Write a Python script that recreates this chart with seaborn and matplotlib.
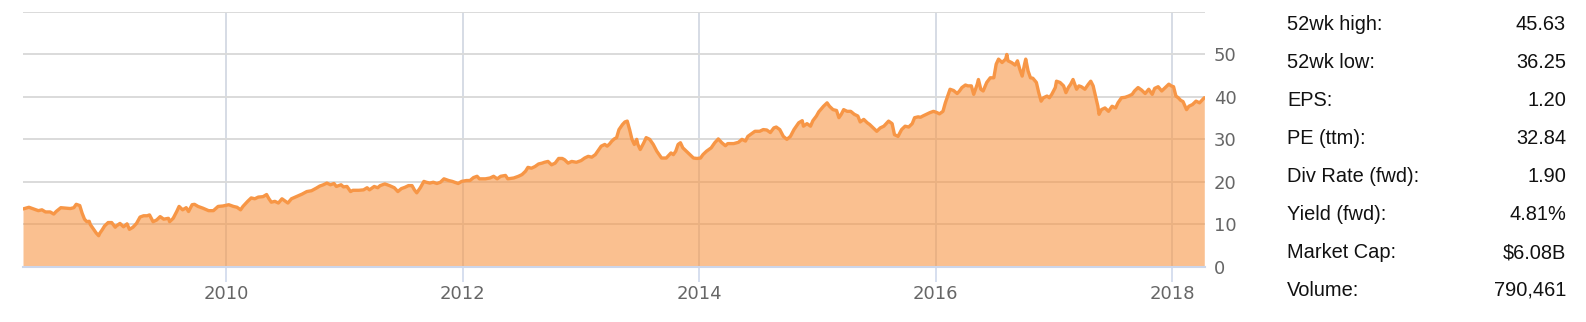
import matplotlib
matplotlib.use("Agg")
import matplotlib.pyplot as plt
import seaborn as sns
import pandas as pd

# ---------------- data ----------------
years = [
    2008.28, 2008.33, 2008.37, 2008.41, 2008.44, 2008.47, 2008.51, 2008.54, 2008.56, 2008.60,
    2008.64, 2008.68, 2008.71, 2008.73, 2008.76, 2008.78, 2008.80, 2008.82, 2008.84, 2008.85,
    2008.87, 2008.90, 2008.92, 2008.93, 2008.95, 2008.97, 2009.00, 2009.03, 2009.06, 2009.07,
    2009.10, 2009.13, 2009.16, 2009.18, 2009.21, 2009.24, 2009.27, 2009.30, 2009.33, 2009.35,
    2009.38, 2009.41, 2009.44, 2009.47, 2009.51,
    2009.52, 2009.55, 2009.58, 2009.60, 2009.63, 2009.66, 2009.68, 2009.71, 2009.73, 2009.76,
    2009.80, 2009.85, 2009.89, 2009.93, 2009.97, 2010.02, 2010.06, 2010.09, 2010.12, 2010.14,
    2010.18, 2010.21, 2010.24, 2010.27, 2010.31, 2010.34, 2010.36, 2010.38, 2010.41, 2010.44,
    2010.47, 2010.50, 2010.52, 2010.55, 2010.59, 2010.64, 2010.68, 2010.72, 2010.76, 2010.79,
    2010.82, 2010.85, 2010.88, 2010.91, 2010.93, 2010.97, 2010.99, 2011.02, 2011.05, 2011.07,
    2011.12, 2011.16, 2011.19, 2011.21, 2011.25, 2011.28, 2011.30, 2011.34, 2011.38, 2011.42,
    2011.45, 2011.48, 2011.51, 2011.54, 2011.57, 2011.59, 2011.61, 2011.64, 2011.67, 2011.69,
    2011.72, 2011.75, 2011.78, 2011.81, 2011.84, 2011.88, 2011.91, 2011.93, 2011.96, 2011.99,
    2012.03, 2012.06,
    2012.09, 2012.12, 2012.14, 2012.19, 2012.23, 2012.26, 2012.29, 2012.32, 2012.36, 2012.38,
    2012.43, 2012.47, 2012.50, 2012.53, 2012.55, 2012.58, 2012.61, 2012.64, 2012.67, 2012.69,
    2012.72, 2012.75, 2012.78, 2012.81, 2012.84, 2012.86, 2012.89, 2012.92, 2012.96, 2013.00,
    2013.03, 2013.06, 2013.09, 2013.12, 2013.15, 2013.17, 2013.20, 2013.22, 2013.24, 2013.26,
    2013.28, 2013.30, 2013.32,
    2013.35, 2013.37, 2013.39, 2013.41, 2013.43, 2013.45, 2013.47, 2013.48, 2013.50, 2013.53,
    2013.55, 2013.58, 2013.61, 2013.64, 2013.68, 2013.72, 2013.76, 2013.78, 2013.80, 2013.82,
    2013.84, 2013.86, 2013.89, 2013.92, 2013.95, 2013.98, 2014.01, 2014.03, 2014.06, 2014.08,
    2014.10, 2014.13, 2014.16, 2014.19, 2014.22, 2014.24, 2014.29, 2014.33, 2014.36, 2014.39,
    2014.41, 2014.44, 2014.47, 2014.51, 2014.54, 2014.57, 2014.60,
    2014.63, 2014.65, 2014.68, 2014.71, 2014.74, 2014.77, 2014.80, 2014.84, 2014.87, 2014.88,
    2014.91, 2014.94, 2014.96, 2014.99, 2015.01, 2015.05, 2015.08, 2015.10, 2015.13, 2015.16,
    2015.18, 2015.20, 2015.22, 2015.25, 2015.28, 2015.31, 2015.34, 2015.36, 2015.39, 2015.42,
    2015.44, 2015.47, 2015.50, 2015.53, 2015.56, 2015.60, 2015.63, 2015.65, 2015.68, 2015.71,
    2015.74, 2015.77, 2015.80, 2015.82, 2015.85,
    2015.87, 2015.89, 2015.92, 2015.95, 2015.98, 2016.01, 2016.03, 2016.06, 2016.08, 2016.10,
    2016.12, 2016.15, 2016.18, 2016.20, 2016.22, 2016.25, 2016.27, 2016.30, 2016.32, 2016.35,
    2016.36, 2016.38, 2016.40, 2016.43, 2016.46, 2016.49, 2016.51, 2016.53, 2016.56, 2016.59,
    2016.60, 2016.61, 2016.64, 2016.67, 2016.69, 2016.71, 2016.73, 2016.75, 2016.76, 2016.78,
    2016.80, 2016.82, 2016.85, 2016.87, 2016.89, 2016.91, 2016.94, 2016.96, 2016.98, 2017.01,
    2017.02,
    2017.05, 2017.08, 2017.10, 2017.12, 2017.14, 2017.16, 2017.19, 2017.21, 2017.23, 2017.26,
    2017.29, 2017.31, 2017.33, 2017.35, 2017.37, 2017.38, 2017.40, 2017.43, 2017.46, 2017.49,
    2017.52, 2017.54, 2017.57, 2017.60, 2017.63, 2017.66, 2017.68, 2017.71, 2017.74, 2017.77,
    2017.80, 2017.83, 2017.85, 2017.88, 2017.91, 2017.94, 2017.97, 2017.99, 2018.01, 2018.03,
    2018.05, 2018.07, 2018.09, 2018.12, 2018.14, 2018.17, 2018.20, 2018.23, 2018.25, 2018.27,
]

prices = [
    13.6, 14.0, 13.6, 13.2, 13.4, 12.9, 12.9, 12.4, 13.0, 13.9,
    13.8, 13.7, 13.9, 14.7, 14.4, 12.6, 11.2, 10.6, 10.7, 9.9,
    9.1, 7.9, 7.3, 7.9, 8.7, 9.6, 10.4, 10.4, 9.3, 9.6,
    10.2, 9.4, 10.1, 8.8, 9.3, 10.2, 11.7, 12.0, 12.0, 12.2,
    10.6, 11.0, 11.8, 11.2, 11.4,
    10.6, 11.4, 13.0, 14.2, 13.4, 13.9, 13.0, 14.6, 14.7, 14.2,
    13.8, 13.2, 13.2, 14.2, 14.3, 14.6, 14.2, 14.0, 13.4, 14.2,
    15.4, 16.2, 16.0, 16.4, 16.5, 17.0, 16.0, 15.2, 15.4, 15.0,
    16.0, 15.4, 15.0, 16.0, 16.5, 17.1, 17.7, 17.9, 18.5, 19.0,
    19.3, 19.7, 19.3, 19.6, 18.9, 19.3, 18.8, 18.9, 17.7, 18.0,
    18.0, 18.1, 18.6, 18.1, 18.9, 18.6, 19.1, 19.5, 19.1, 18.6,
    17.7, 18.4, 18.7, 19.1, 19.1, 18.1, 17.4, 18.6, 20.1, 19.9,
    19.7, 19.9, 19.6, 19.9, 20.7, 20.3, 20.1, 19.9, 19.6, 20.1,
    20.3, 20.3,
    21.0, 21.3, 20.7, 20.7, 20.9, 21.3, 20.7, 21.3, 21.5, 20.7,
    20.9, 21.3, 21.7, 22.5, 23.4, 23.2, 23.6, 24.2, 24.4, 24.6,
    24.8, 24.0, 24.4, 25.5, 25.5, 25.2, 24.4, 24.8, 24.6, 25.0,
    25.6, 26.0, 25.8, 26.4, 27.6, 28.4, 28.8, 28.4, 28.9, 29.6,
    30.1, 30.4, 32.3,
    33.5, 34.1, 34.3, 32.3, 30.0, 28.8, 30.0, 28.8, 27.6, 29.2,
    30.4, 30.0, 28.8, 27.2, 25.6, 25.6, 26.8, 26.4, 27.2, 28.8,
    29.2, 28.0, 27.2, 26.4, 25.6, 25.5, 25.6, 26.4, 27.2, 27.6,
    28.0, 29.2, 30.1, 29.2, 28.5, 29.0, 29.0, 29.3, 30.0, 29.6,
    30.7, 31.3, 31.9, 31.9, 32.3, 32.2, 31.6,
    32.7, 32.9, 32.3, 30.7, 30.0, 30.7, 32.3, 33.9, 34.4, 33.1,
    33.7, 33.1, 34.4, 35.5, 36.5, 37.8, 38.6, 37.8, 37.0, 36.8,
    35.1, 35.9, 37.0, 36.6, 36.6, 35.9, 35.5, 34.1, 34.7, 33.9,
    33.5, 32.7, 31.9, 32.7, 33.1, 34.3, 33.7, 31.1, 30.7, 32.3,
    33.1, 32.9, 33.7, 35.1, 35.3,
    35.2, 35.5, 35.9, 36.3, 36.6, 36.3, 36.0, 36.6, 38.6, 40.2,
    41.8, 41.5, 40.8, 41.4, 42.2, 42.8, 42.6, 42.6, 40.6, 43.0,
    44.1, 41.8, 41.4, 43.4, 44.5, 44.5, 47.7, 48.9, 48.1, 48.9,
    50.0, 48.5, 48.1, 47.5, 48.5, 46.5, 44.9, 47.7, 48.9, 46.1,
    44.5, 44.4, 43.4, 41.0, 39.0, 39.8, 40.2, 39.8, 40.6, 42.2,
    43.7,
    43.4, 42.6, 41.0, 42.2, 43.0, 44.1, 41.8, 42.6, 42.4, 41.8,
    43.0, 43.7, 42.6, 40.2, 37.8, 35.9, 37.0, 37.4, 36.6, 37.8,
    37.4, 38.6, 39.8, 39.9, 40.2, 40.6, 41.4, 42.2, 41.6, 40.8,
    41.8, 40.6, 42.0, 42.4, 41.4, 42.2, 43.0, 42.6, 42.4, 40.2,
    39.8, 39.2, 38.9, 37.0, 37.8, 38.2, 39.0, 38.6, 39.2, 39.8,
]

x_ticks = [2010, 2012, 2014, 2016, 2018]
y_ticks = [0, 10, 20, 30, 40, 50, 60]
y_tick_labels = ["0", "10", "20", "30", "40", "50", ""]

stat_labels = ["52wk high:", "52wk low:", "EPS:", "PE (ttm):", "Div Rate (fwd):",
               "Yield (fwd):", "Market Cap:", "Volume:"]
stat_values = ["45.63", "36.25", "1.20", "32.84", "1.90", "4.81%", "$6.08B", "790,461"]

# ---------------- figure ----------------
sns.set_theme(style="white")
plt.rcParams["font.family"] = ["DejaVu Sans"]

W, H = 1586, 322
fig = plt.figure(figsize=(W / 100, H / 100), dpi=100)
ax = fig.add_axes([23 / W, 1 - 266.7 / H, (1205 - 23) / W, (266.7 - 12) / H])

df = pd.DataFrame({"year": years, "price": prices})

LINE = "#F79646"
ax.fill_between(df["year"], 0, df["price"], color=LINE, alpha=0.6, lw=0, zorder=2)
sns.lineplot(data=df, x="year", y="price", ax=ax, color=LINE, lw=2.4,
             estimator=None, sort=False, zorder=3)
for ln in ax.lines:
    ln.set_solid_joinstyle("round")

ax.set_xlim(2008.28, 2018.276)
ax.set_ylim(0, 60)

ax.set_xticks(x_ticks)
ax.set_xticklabels([str(t) for t in x_ticks])
ax.yaxis.tick_right()
ax.set_yticks(y_ticks)
ax.set_yticklabels(y_tick_labels)

ax.set_xlabel("")
ax.set_ylabel("")

ax.grid(axis="y", color="#dadada", lw=1.4, zorder=1)
ax.grid(axis="x", color="#d6dce5", lw=1.4, zorder=1)
ax.set_axisbelow(True)

for s in ["top", "left", "right"]:
    ax.spines[s].set_visible(False)
ax.spines["bottom"].set_color("#ccd6eb")
ax.spines["bottom"].set_linewidth(1.5)
ax.spines["bottom"].set_zorder(4)

ax.tick_params(axis="x", direction="out", length=10.5, width=1.1, color="#ccd6eb",
               pad=3, labelsize=13, labelcolor="#666666", bottom=True)
ax.tick_params(axis="y", length=0, pad=6.5, labelsize=13, labelcolor="#666666",
               right=True, left=False)
ax.set_facecolor("white")

# ---------------- stats table ----------------
row_base0 = 30.0
row_step = 38.0
for i, (lab, val) in enumerate(zip(stat_labels, stat_values)):
    yb = 1 - (row_base0 + i * row_step) / H
    fig.text(1287 / W, yb, lab, ha="left", va="baseline", fontsize=14.4,
             family=["Liberation Sans", "DejaVu Sans"], color="#111111")
    fig.text(1566 / W, yb, val, ha="right", va="baseline", fontsize=14.4,
             family=["Liberation Sans", "DejaVu Sans"], color="#111111")

fig.savefig("out.png", dpi=100, facecolor="white")
